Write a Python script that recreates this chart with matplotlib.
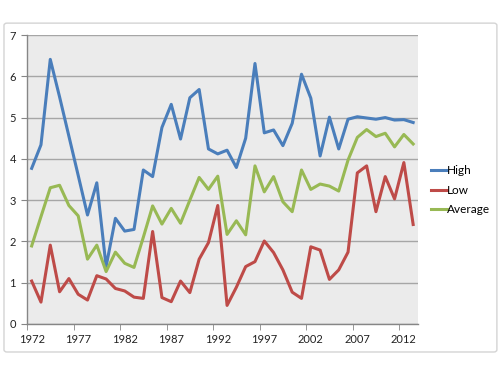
import matplotlib
matplotlib.use("Agg")
import matplotlib.pyplot as plt
from matplotlib.patches import FancyBboxPatch
import numpy as np

years = list(range(1972, 2014))
high = [3.77, 4.34, 6.41, 5.50, 4.55, 3.60, 2.64, 3.42, 1.39, 2.56,
        2.25, 2.29, 3.73, 3.57, 4.76, 5.32, 4.48, 5.48, 5.68, 4.24,
        4.12, 4.21, 3.79, 4.50, 6.31, 4.63, 4.70, 4.32, 4.86, 6.05,
        5.47, 4.07, 5.01, 4.24, 4.96, 5.02, 4.99, 4.96, 5.00, 4.94,
        4.95, 4.88]
low = [1.04, 0.53, 1.91, 0.78, 1.10, 0.72, 0.58, 1.17, 1.09, 0.86,
       0.80, 0.65, 0.62, 2.24, 0.64, 0.54, 1.04, 0.76, 1.57, 1.97,
       2.87, 0.45, 0.89, 1.39, 1.51, 2.01, 1.73, 1.31, 0.77, 0.62,
       1.87, 1.79, 1.08, 1.31, 1.74, 3.66, 3.83, 2.72, 3.57, 3.03,
       3.91, 2.41]
average = [1.89, 2.60, 3.30, 3.36, 2.87, 2.62, 1.57, 1.91, 1.27, 1.74,
           1.47, 1.37, 2.10, 2.86, 2.42, 2.80, 2.44, 3.00, 3.55, 3.26,
           3.58, 2.17, 2.50, 2.16, 3.83, 3.20, 3.57, 2.96, 2.72, 3.73,
           3.26, 3.39, 3.34, 3.22, 3.97, 4.52, 4.71, 4.54, 4.62, 4.29,
           4.59, 4.36]
series_names = ["High", "Low", "Average"]
colors = ["#4A7EBB", "#BE4B48", "#98B954"]

plt.rcParams['font.family'] = ['Lato', 'DejaVu Sans']

fig = plt.figure(figsize=(5.04, 3.78), dpi=100)
fig.patch.set_facecolor("white")

# outer chart border
border = FancyBboxPatch((0.0079, 0.0688), 0.978, 0.870,
                        boxstyle="round,pad=0,rounding_size=0.006",
                        transform=fig.transFigure, facecolor="none",
                        edgecolor="#D4D4D4", linewidth=1.0)
fig.patches.append(border)

ax = fig.add_axes([0.0536, 0.1429, 0.7754, 0.7645])
ax.set_facecolor("#EBEBEB")

x = np.arange(len(years))
for vals, name, c in zip([high, low, average], series_names, colors):
    ax.plot(x, vals, color=c, lw=2.2, label=name, solid_joinstyle="round")

ax.set_xlim(-0.5, len(years) - 0.5)
ax.set_ylim(0, 7)
ax.set_yticks(range(0, 8))
ax.yaxis.grid(True, color="#A6A6A6", lw=1.0)
ax.set_axisbelow(True)

ax.set_xticks(x[::5])
ax.set_xticklabels([str(y) for y in years[::5]])
ax.set_xticks(np.arange(-0.5, len(years), 5), minor=True)
ax.tick_params(axis="x", which="major", length=0, pad=7, labelsize=8, colors="#222222")
ax.tick_params(axis="x", which="minor", length=4, color="#868686", direction="out")
ax.tick_params(axis="y", length=4, color="#868686", labelsize=8, pad=4, colors="#222222")
ax.tick_params(axis="y", colors="#868686", labelcolor="#222222")

for s in ["top", "right"]:
    ax.spines[s].set_visible(False)
for s in ["left", "bottom"]:
    ax.spines[s].set_color("#868686")
    ax.spines[s].set_linewidth(1.0)

fig.legend(loc="center left", bbox_to_anchor=(0.8546, 0.497), frameon=False,
           handlelength=1.4, handletextpad=0.0, labelspacing=0.75,
           borderpad=0, borderaxespad=0, fontsize=8.5)

fig.savefig("out.png", dpi=100)
